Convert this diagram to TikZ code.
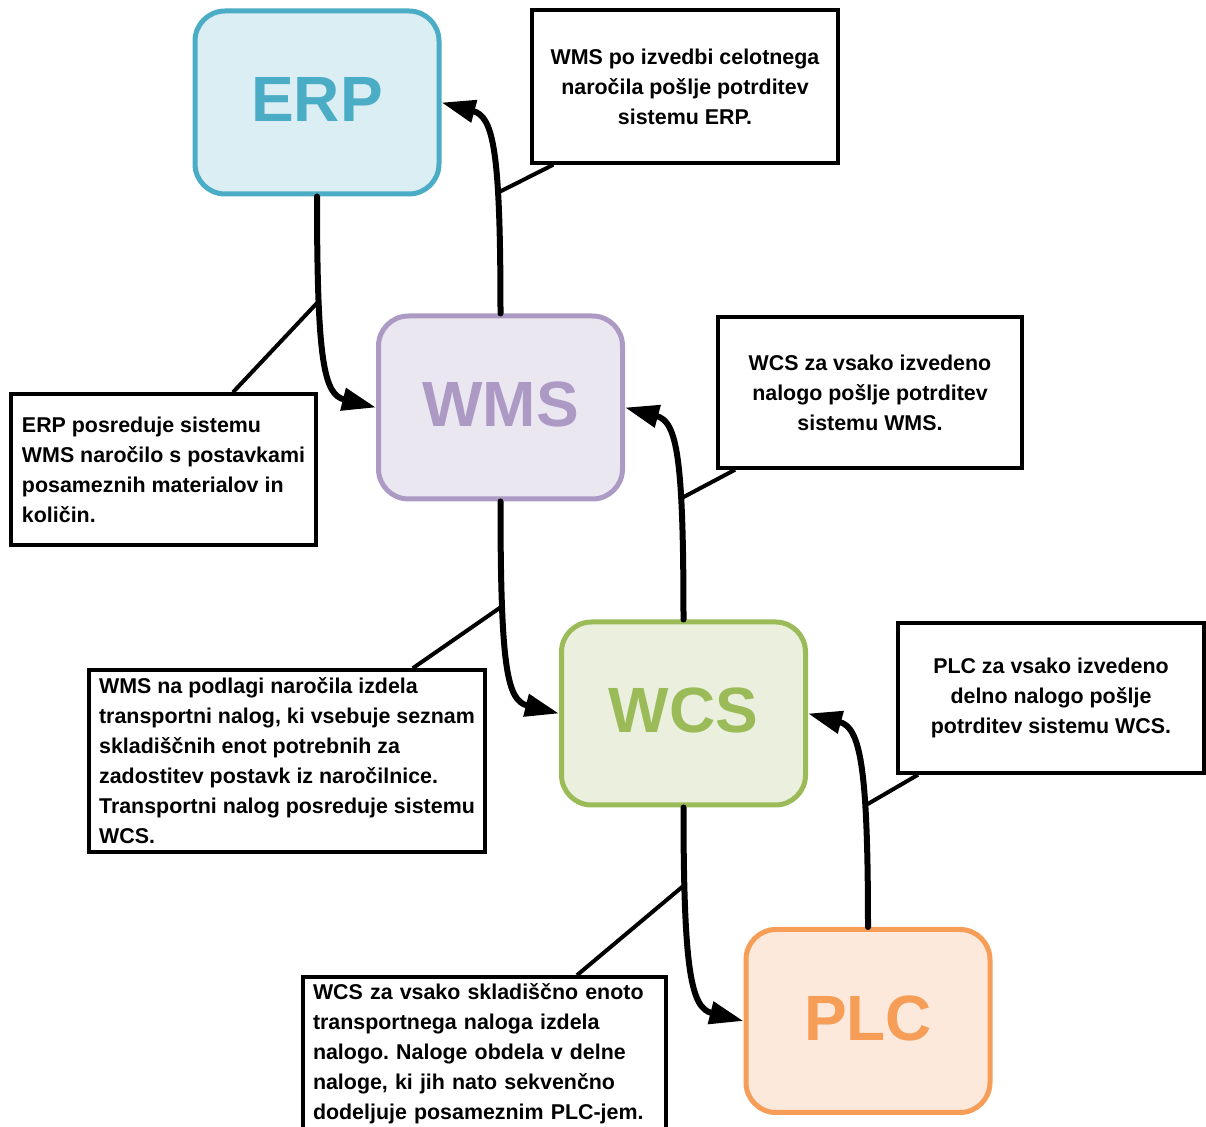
\documentclass[tikz,border=0pt]{standalone}
\usepackage{fontspec}
\setmainfont{Liberation Sans}
\usetikzlibrary{arrows.meta,calc}
\frenchspacing

% system colours
\definecolor{erpline}{HTML}{4BACC6}
\definecolor{erpfill}{HTML}{DAEEF3}
\definecolor{wmsline}{HTML}{AC9AC4}
\definecolor{wmsfill}{HTML}{EBE7F1}
\definecolor{wcsline}{HTML}{9BBB59}
\definecolor{wcsfill}{HTML}{EAF0DD}
\definecolor{plcline}{HTML}{F69D57}
\definecolor{plcfill}{HTML}{FCE9DC}

\begin{document}
\begin{tikzpicture}[x=0.5pt, y=-0.5pt,
  sysbox/.style={rounded corners=15pt, line width=2.5pt, minimum width=122pt,
    minimum height=91.5pt, inner sep=0pt, text depth=3pt,
    font=\fontsize{32}{38}\selectfont\bfseries},
  note/.style={draw, line width=1.75pt, fill=white, inner ysep=0pt,
    font=\fontsize{10.7}{15}\selectfont\bfseries},
  flow/.style={line width=3pt, line cap=round, -{Triangle[length=17pt,width=11pt]}},
  callout/.style={line width=2pt},
]
\path[use as bounding box] (0,0) rectangle (1206,1127);
\clip (0,0) rectangle (1206,1127);

% systems
\node[sysbox, draw=erpline, fill=erpfill, text=erpline] (erp) at (317,102.5) {ERP};
\node[sysbox, draw=wmsline, fill=wmsfill, text=wmsline] (wms) at (500.5,407.5) {WMS};
\node[sysbox, draw=wcsline, fill=wcsfill, text=wcsline] (wcs) at (683.5,713.5) {WCS};
\node[sysbox, draw=plcline, fill=plcfill, text=plcline] (plc) at (868,1021) {PLC};

% explanatory notes
\node[note, align=center, minimum width=153pt, minimum height=76.5pt] (b1) at (685,86.5)
  {WMS po izvedbi celotnega\\naročila pošlje potrditev\\sistemu ERP.};
\node[note, align=center, minimum width=152pt, minimum height=75.5pt] (b2) at (870,392.5)
  {WCS za vsako izvedeno\\nalogo pošlje potrditev\\sistemu WMS.};
\node[note, align=left, minimum width=152.5pt, minimum height=75.5pt] (b3) at (163.5,469.5)
  {ERP posreduje sistemu\\WMS naročilo s postavkami\\posameznih materialov in\\količin.};
\node[note, align=left, minimum width=198pt, minimum height=91pt] (b4) at (287,761)
  {WMS na podlagi naročila izdela\\transportni nalog, ki vsebuje seznam\\skladiščnih enot potrebnih za\\zadostitev postavk iz naročilnice.\\Transportni nalog posreduje sistemu\\WCS.};
\node[note, align=center, minimum width=153pt, minimum height=75pt] (b5) at (1051,698)
  {PLC za vsako izvedeno\\delno nalogo pošlje\\potrditev sistemu WCS.};
\node[note, align=left, text width=171.5pt, inner xsep=5pt, minimum height=90pt] (b6) at (484.5,1067)
  {WCS za vsako skladiščno enoto\\transportnega naloga izdela\\nalogo. Naloge obdela v delne\\naloge, ki jih nato sekvenčno\\dodeljuje posameznim PLC-jem.\\\mbox{}};

% orders flowing down
\draw[flow] (erp.south) .. controls ($(erp.south)+(0,166)$) and ($(wms.west)+(-52,-13)$) .. (wms.west)
  coordinate[pos=0.26] (k2);
\draw[flow] (wms.south) .. controls ($(wms.south)+(0,166)$) and ($(wcs.west)+(-52,-13)$) .. (wcs.west)
  coordinate[pos=0.26] (k4);
\draw[flow] (wcs.south) .. controls ($(wcs.south)+(0,166)$) and ($(plc.west)+(-52,-13)$) .. (plc.west)
  coordinate[pos=0.18] (k6);

% confirmations flowing up
\draw[flow] (wms.north) .. controls ($(wms.north)+(0,-163)$) and ($(erp.east)+(52,14)$) .. (erp.east)
  coordinate[pos=0.32] (k1);
\draw[flow] (wcs.north) .. controls ($(wcs.north)+(0,-163)$) and ($(wms.east)+(52,14)$) .. (wms.east)
  coordinate[pos=0.32] (k3);
\draw[flow] (plc.north) .. controls ($(plc.north)+(0,-163)$) and ($(wcs.east)+(52,14)$) .. (wcs.east)
  coordinate[pos=0.32] (k5);

% note pointers
\draw[callout] ([xshift=11.5pt]b1.south west) -- (k1);
\draw[callout] ([xshift=34.75pt]b3.north) -- (k2);
\draw[callout] ([xshift=9.4pt]b2.south west) -- (k3);
\draw[callout] ([xshift=-37pt]b4.north east) -- (k4);
\draw[callout] ([xshift=10.9pt]b5.south west) -- (k5);
\draw[callout] ([xshift=-45.4pt]b6.north east) -- (k6);
\end{tikzpicture}
\end{document}
